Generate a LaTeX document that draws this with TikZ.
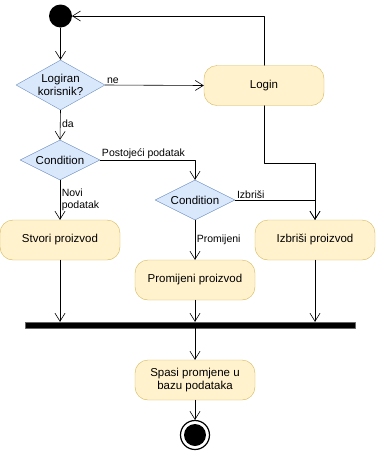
\documentclass[tikz,border=0pt]{standalone}
\usepackage{fontspec}
\setmainfont{Liberation Sans}
\usetikzlibrary{shapes.geometric,arrows.meta}
\definecolor{decfill}{HTML}{DAE8FC}
\definecolor{decline}{HTML}{6C8EBF}
\definecolor{actfill}{HTML}{FFF2CC}
\definecolor{actline}{HTML}{D6B656}
\begin{document}
\begin{tikzpicture}[x=1pt, y=-1pt, line cap=round, line join=round,
		font=\fontsize{11.5}{13.5}\selectfont]
	\tikzset{
		decision/.style={diamond, draw=decline, fill=decfill, aspect=1.8, inner sep=0pt, align=center},
		activity/.style={rectangle, rounded corners=13pt, draw=actline, fill=actfill, minimum width=120pt, minimum height=40pt, inner sep=2pt, align=center},
		arr/.style={-{Straight Barb[length=8pt,width=10pt]}, line width=0.6pt},
		lbl/.style={font=\fontsize{10.5}{12.5}\selectfont, inner sep=1.5pt, align=left}
	}
	\useasboundingbox (0,0) rectangle (376,451);
	% start and decisions
	\fill (60.5,16) circle (11.5);
	\coordinate (start) at (72,16);
	\coordinate (startb) at (60.5,28);
	\node[decision, minimum width=89pt, minimum height=50pt] (logiran) at (60.5,85) {Logiran\\korisnik?};
	\node[activity] (login) at (264,85.5) {Login};
	\node[decision, minimum width=80pt, minimum height=40pt] (cond1) at (60,160) {Condition};
	\node[decision, minimum width=80pt, minimum height=40pt] (cond2) at (195,200) {Condition};
	% activities
	\node[activity] (stvori) at (60,240) {Stvori proizvod};
	\node[activity] (izbrisi) at (315,240) {Izbriši proizvod};
	\node[activity] (promijeni) at (195,280) {Promijeni proizvod};
	\node[rectangle, draw=black!60, fill=black, minimum width=330pt, minimum height=6pt, inner sep=0pt] (bar) at (190,325) {};
	\node[activity] (spasi) at (195,380) {Spasi promjene u\\bazu podataka};
	\node[circle, draw, line width=1.2pt, minimum size=29pt, inner sep=0pt] (stop) at (195,435) {};
	\fill (stop) circle (11);
	\coordinate (bend) at (315,163);
	% connectors
	\draw[arr] (startb) -- (logiran.north);
	\draw[arr] (logiran.east) -- (login.west) node[pos=0, lbl, above right] {ne};
	\draw[arr] (login.north) |- (start);
	\draw[arr] (logiran.south) -- (cond1.north) node[pos=0.45, lbl, right] {da};
	\draw[arr] (cond1.east) -| (cond2.north) node[pos=0, lbl, above right] {Postojeći podatak};
	\draw[arr] (cond1.south) -- (stvori.north) node[pos=0.5, lbl, right] {Novi\\podatak};
	\draw[arr] (cond2.east) -| (izbrisi.north) node[pos=0, lbl, above right] {Izbriši};
	\draw[arr] (login.south) |- (bend) -- (izbrisi.north);
	\draw[arr] (cond2.south) -- (promijeni.north) node[pos=0.5, lbl, right] {Promijeni};
	\draw[arr] (stvori.south) -- (stvori |- bar.north);
	\draw[arr] (promijeni.south) -- (promijeni |- bar.north);
	\draw[arr] (izbrisi.south) -- (izbrisi |- bar.north);
	\draw[arr] (bar.south -| spasi) -- (spasi.north);
	\draw[arr] (spasi.south) -- (stop.north);
\end{tikzpicture}
\end{document}
